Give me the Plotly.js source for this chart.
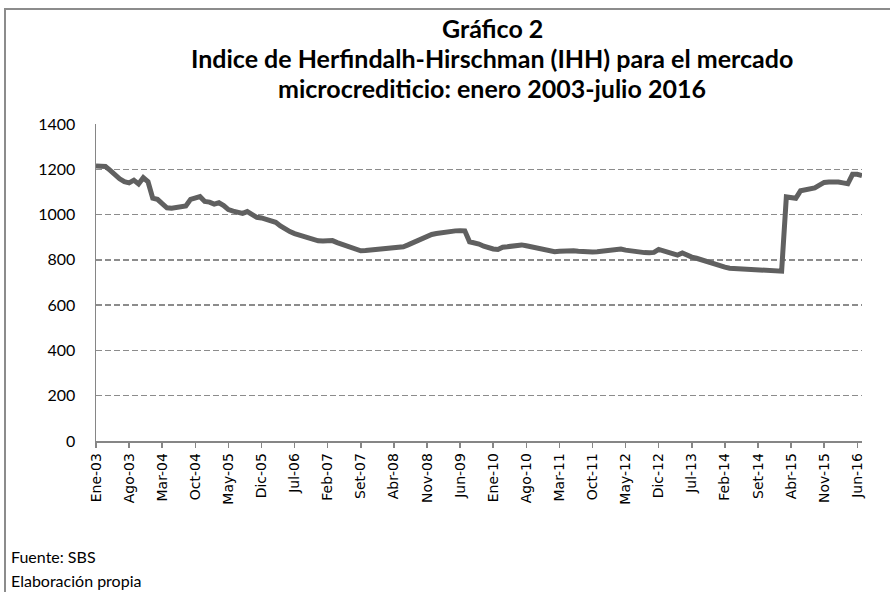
<!DOCTYPE html>
<html>
<head>
<meta charset="utf-8">
<script src="https://cdn.plot.ly/plotly-3.0.1.min.js"></script>
<style>
  html, body { margin: 0; padding: 0; background: #ffffff; overflow: hidden; }
  #frame { position: absolute; left: 4px; top: 8px; width: 900px; height: 600px; border: 2px solid #8c8c8c; box-sizing: border-box; }
  #chart { position: absolute; left: 0; top: 0; width: 890px; height: 592px; }
</style>
</head>
<body>
<div id="frame"></div>
<div id="chart"></div>
<script>
// Month abbreviations used in the category labels (Spanish)
const monthNames = ["Ene","Feb","Mar","Abr","May","Jun","Jul","Ago","Set","Oct","Nov","Dic"];
const startYear = 2003;
const nMonths = 163; // Ene-03 .. Jul-16

// IHH values, monthly
const ihh = [
  1214,1214,1212,1195,1175,1158,1145,1140,1152,1135,1163,1145,
  1072,1067,1048,1030,1028,1030,1032,1038,1067,1075,1079,1058,
  1055,1046,1052,1040,1022,1015,1008,1005,1013,1000,988,985,
  980,975,966,950,935,925,916,910,900,896,890,884,
  883,883,885,876,868,864,856,848,840,841,843,847,
  850,852,853,855,856,858,866,876,886,896,906,912,
  916,920,924,926,928,929,928,880,876,870,860,852,
  848,846,856,858,861,862,866,862,858,854,850,846,
  840,836,838,840,843,840,838,836,836,835,836,838,
  840,843,845,848,843,840,834,832,832,831,833,846,
  840,835,828,821,830,818,812,807,800,792,784,777,
  772,768,763,762,762,761,760,758,757,756,755,754,
  752,750,1078,1074,1072,1105,1108,1112,1118,1130,1142,1144,
  1145,1144,1140,1136,1178,1178,1172
];

const titleLines = [
  "Gráfico 2",
  "Indice de Herfindalh-Hirschman (IHH) para el mercado",
  "microcrediticio: enero 2003-julio 2016"
];
const footerLines = ["Fuente: SBS", "Elaboración propia"];

const categories = [];
for (let i = 0; i < nMonths; i++) {
  const m = i % 12;
  const y = startYear + Math.floor(i / 12);
  categories.push(monthNames[m] + "-" + String(y % 100).padStart(2, "0"));
}
const tickStep = 7;
const tickLabels = categories.filter((c, i) => i % tickStep === 0);

const yTicks = [0, 200, 400, 600, 800, 1000, 1200, 1400];

const trace = {
  x: categories,
  y: ihh,
  type: "scatter",
  mode: "lines",
  line: { color: "#606060", width: 5, shape: "linear" },
  hoverinfo: "x+y"
};

const plotL = 96, plotT = 124, plotW = 766, plotH = 317;
const px2x = px => (px - plotL) / plotW;
const px2y = py => (plotT + plotH - py) / plotH;

const titleFont = { family: "Lato, 'Open Sans', sans-serif", size: 25, color: "#000000" };
const footFont = { family: "Lato, 'Open Sans', sans-serif", size: 16, color: "#000000" };
const titleY = [28, 58, 88];
const footY = [556, 580];

const annotations = [];
titleLines.forEach((t, k) => annotations.push({
  text: "<b>" + t + "</b>",
  xref: "paper", yref: "paper",
  x: px2x(492), y: px2y(titleY[k]),
  xanchor: "center", yanchor: "middle",
  showarrow: false, font: titleFont
}));
footerLines.forEach((t, k) => annotations.push({
  text: t,
  xref: "paper", yref: "paper",
  x: px2x(9), y: px2y(footY[k]),
  xanchor: "left", yanchor: "middle",
  showarrow: false, font: footFont
}));

const layout = {
  width: 890,
  height: 592,
  margin: { l: plotL, r: 890 - plotL - plotW, t: plotT, b: 592 - plotT - plotH, pad: 0 },
  paper_bgcolor: "rgba(0,0,0,0)",
  plot_bgcolor: "rgba(0,0,0,0)",
  showlegend: false,
  xaxis: {
    type: "category",
    range: [0, nMonths - 1],
    tickmode: "array",
    tickvals: tickLabels,
    ticktext: tickLabels,
    tickangle: -90,
    tickfont: { family: "'DejaVu Sans', sans-serif", size: 14, color: "#000000" },
    ticks: "outside",
    ticklen: 5,
    tickwidth: 1.5,
    tickcolor: "#868686",
    showline: true,
    linecolor: "#868686",
    linewidth: 1.5,
    showgrid: false,
    zeroline: false,
    fixedrange: true
  },
  yaxis: {
    range: [0, 1400],
    tickmode: "array",
    tickvals: yTicks,
    ticktext: yTicks.map(String),
    tickfont: { family: "Lato, 'Open Sans', sans-serif", size: 16, color: "#000000" },
    ticks: "",
    ticklabelstandoff: 16,
    showline: true,
    linecolor: "#868686",
    linewidth: 1.5,
    showgrid: true,
    gridcolor: "#8c8c8c",
    gridwidth: 1.3,
    griddash: "6px,3px",
    zeroline: false,
    fixedrange: true
  },
  annotations: annotations
};

Plotly.newPlot("chart", [trace], layout, { displayModeBar: false, staticPlot: true });
</script>
</body>
</html>
